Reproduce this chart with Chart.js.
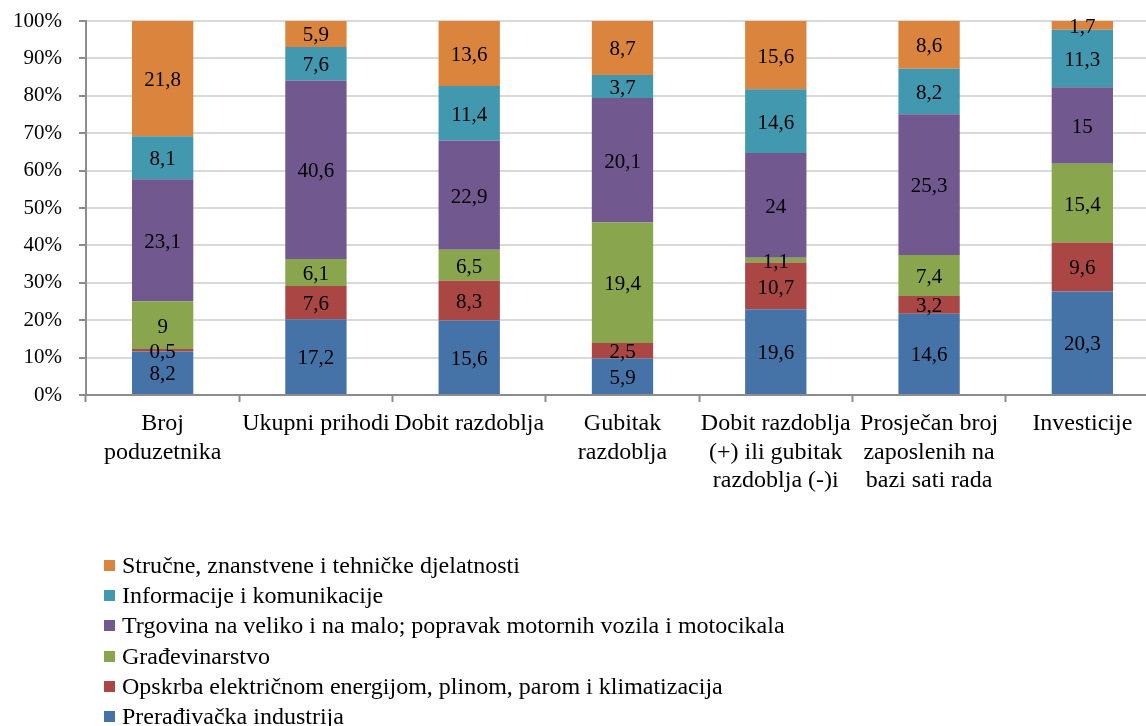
<!DOCTYPE html>
<html>
<head>
<meta charset="utf-8">
<script src="https://cdn.jsdelivr.net/npm/chart.js@4"></script>
<style>
    html, body { margin: 0; padding: 0; background: #fff; overflow: hidden; }
    #wrap { position: relative; width: 1146px; height: 726px; overflow: hidden; }
    #strukturaChart { position: absolute; left: 0; top: 0; }
    #legenda { position: absolute; left: 104px; top: 550px; font-family: 'Liberation Serif', 'Times New Roman', serif; font-size: 24px; color: #000; }
    .stavka { height: 30.3px; display: flex; align-items: center; white-space: nowrap; }
    .kvadrat { width: 11px; height: 11px; margin-right: 7px; flex: none; }
</style>
</head>
<body>
<div id="wrap">
    <canvas id="strukturaChart" width="1160" height="726"></canvas>
    <div id="legenda"></div>
</div>
<script>
const labels = [
    ['Broj', 'poduzetnika'],
    'Ukupni prihodi',
    'Dobit razdoblja',
    ['Gubitak', 'razdoblja'],
    ['Dobit razdoblja', '(+) ili gubitak', 'razdoblja (-)i'],
    ['Prosječan broj', 'zaposlenih na', 'bazi sati rada'],
    'Investicije'
];

const yTicks = [0, 10, 20, 30, 40, 50, 60, 70, 80, 90, 100];

// udjeli po djelatnostima (odozdo prema gore)
const preradivacka = [8.2, 17.2, 15.6, 5.9, 19.6, 14.6, 20.3];
const opskrba = [0.5, 7.6, 8.3, 2.5, 10.7, 3.2, 9.6];
const gradevinarstvo = [9, 6.1, 6.5, 19.4, 1.1, 7.4, 15.4];
const trgovina = [23.1, 40.6, 22.9, 20.1, 24, 25.3, 15];
const informacije = [8.1, 7.6, 11.4, 3.7, 14.6, 8.2, 11.3];
const strucne = [21.8, 5.9, 13.6, 8.7, 15.6, 8.6, 1.7];

const serije = [
    { naziv: 'Prerađivačka industrija', vrijednosti: preradivacka, boja: '#4572A7' },
    { naziv: 'Opskrba električnom energijom, plinom, parom i klimatizacija', vrijednosti: opskrba, boja: '#AA4643' },
    { naziv: 'Građevinarstvo', vrijednosti: gradevinarstvo, boja: '#89A54E' },
    { naziv: 'Trgovina na veliko i na malo; popravak motornih vozila i motocikala', vrijednosti: trgovina, boja: '#71588F' },
    { naziv: 'Informacije i komunikacije', vrijednosti: informacije, boja: '#4198AF' },
    { naziv: 'Stručne, znanstvene i tehničke djelatnosti', vrijednosti: strucne, boja: '#DB843D' }
];

// zbroj po kategoriji za 100% prikaz
const zbrojevi = labels.map((_, i) => serije.reduce((s, ser) => s + ser.vrijednosti[i], 0));

const font = "'Liberation Serif', 'Times New Roman', serif";

const oznakePlugin = {
    id: 'oznake',
    afterDatasetsDraw(chart) {
        const ctx = chart.ctx;
        ctx.save();
        ctx.font = '21px ' + font;
        ctx.fillStyle = '#000';
        ctx.textAlign = 'center';
        ctx.textBaseline = 'middle';
        chart.data.datasets.forEach((ds, di) => {
            const meta = chart.getDatasetMeta(di);
            meta.data.forEach((bar, i) => {
                const txt = String(ds.sirovo[i]).replace('.', ',');
                ctx.fillText(txt, bar.x, (bar.y + bar.base) / 2 + 2);
            });
        });
        ctx.restore();
    }
};

const ctx = document.getElementById('strukturaChart').getContext('2d');

new Chart(ctx, {
    type: 'bar',
    data: {
        labels: labels,
        datasets: serije.map(ser => ({
            label: ser.naziv,
            data: ser.vrijednosti.map((v, i) => v / zbrojevi[i] * 100),
            sirovo: ser.vrijednosti,
            backgroundColor: ser.boja,
            borderWidth: 0,
            barPercentage: 0.4,
            categoryPercentage: 1
        }))
    },
    options: {
        responsive: false,
        animation: false,
        layout: {
            padding: { top: 21, right: 1, left: 0, bottom: 211 }
        },
        scales: {
            x: {
                stacked: true,
                grid: {
                    drawOnChartArea: false,
                    tickLength: 7,
                    tickColor: '#8c8c8c',
                    tickWidth: 2
                },
                border: { color: '#8c8c8c', width: 2 },
                ticks: {
                    autoSkip: false,
                    maxRotation: 0,
                    color: '#000',
                    padding: 8,
                    font: { family: font, size: 24, lineHeight: 1.18 }
                },
                afterFit(scale) {
                    scale.height = 120;
                    scale.paddingLeft = 0;
                    scale.paddingRight = 0;
                }
            },
            y: {
                stacked: true,
                min: 0,
                max: 100,
                afterBuildTicks(scale) {
                    scale.ticks = yTicks.map(v => ({ value: v }));
                },
                grid: {
                    color: '#d9d9d9',
                    lineWidth: 2,
                    tickLength: 7,
                    tickColor: '#8c8c8c',
                    tickWidth: 2
                },
                border: { color: '#8c8c8c', width: 2 },
                ticks: {
                    color: '#000',
                    padding: 17,
                    font: { family: font, size: 21 },
                    callback: v => v + '%'
                },
                afterFit(scale) {
                    scale.width = 86;
                    scale.paddingTop = 0;
                    scale.paddingBottom = 0;
                }
            }
        },
        plugins: {
            legend: { display: false },
            tooltip: { enabled: false }
        }
    },
    plugins: [oznakePlugin]
});

const legenda = document.getElementById('legenda');
serije.slice().reverse().forEach(ser => {
    const red = document.createElement('div');
    red.className = 'stavka';
    red.innerHTML = '<span class="kvadrat" style="background:' + ser.boja + '"></span><span>' + ser.naziv + '</span>';
    legenda.appendChild(red);
});
</script>
</body>
</html>
